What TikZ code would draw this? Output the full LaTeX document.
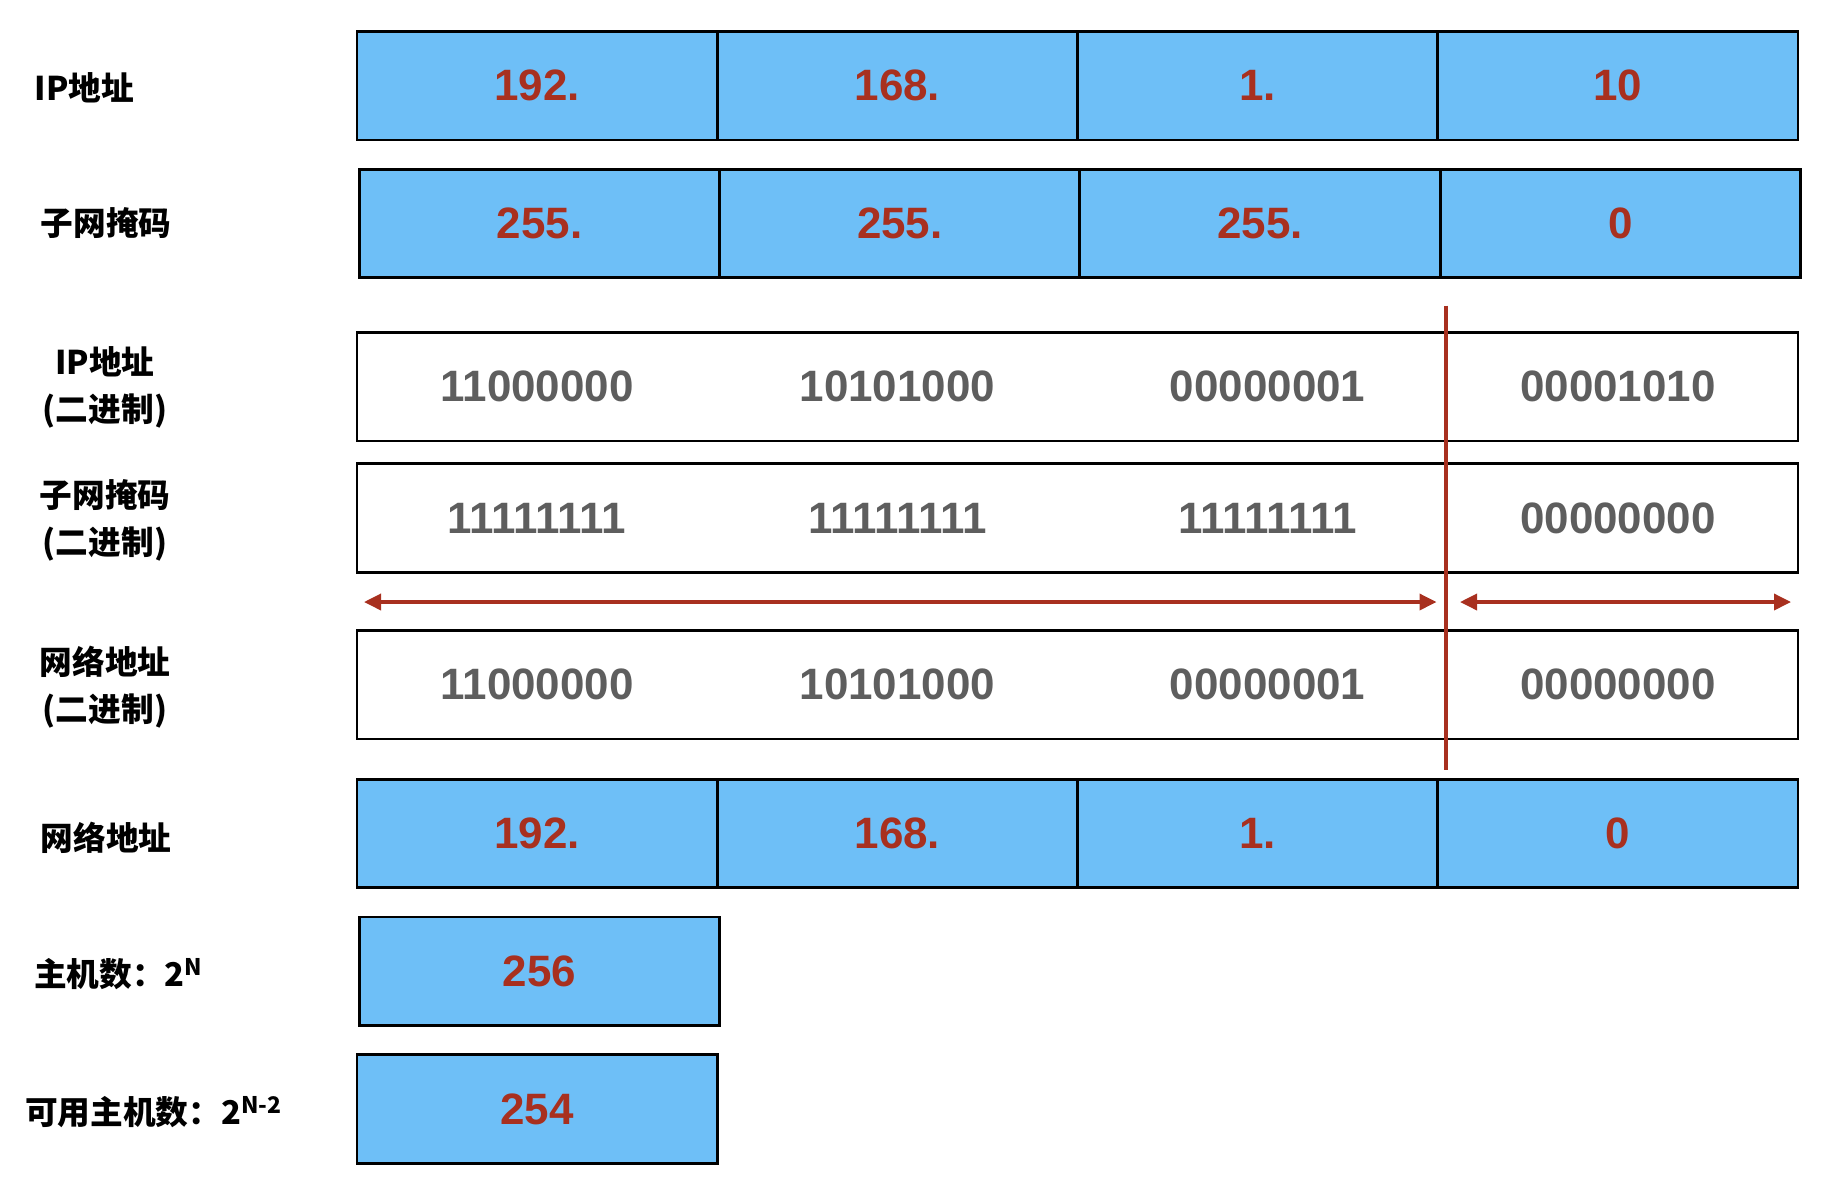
\documentclass[tikz,border=0pt]{standalone}
\usepackage{fontspec}
\setmainfont{Liberation Sans}
\newfontfamily\cjk{Noto Sans CJK SC}
\usepackage{xcolor}
\usepackage{tikz}
\usetikzlibrary{positioning,arrows.meta}

\definecolor{cellblue}{HTML}{6EBFF7}
\definecolor{numred}{HTML}{A8301F}
\definecolor{bitgray}{HTML}{5E5E5E}

\begin{document}
\begin{tikzpicture}[
						cell/.style={rectangle, draw=black, line width=1.6pt, fill=cellblue, outer sep=0pt, inner sep=0pt, minimum width=7.205cm, minimum height=2.17cm, text=numred, font=\fontsize{25}{30}\selectfont\bfseries},
						binrow/.style={rectangle, draw=black, line width=1.6pt, fill=white, outer sep=0pt, minimum width=28.82cm, minimum height=2.17cm},
						bit/.style={text=bitgray, font=\fontsize{25}{30}\selectfont\bfseries},
						lbl/.style={align=center, font=\cjk\bfseries\fontsize{18.6}{26.6}\selectfont},
						cutline/.style={draw=numred, line width=2pt},
						spanarrow/.style={cutline, {Triangle[length=0.34cm,width=0.32cm]}-{Triangle[length=0.34cm,width=0.32cm]}}
						]
						\useasboundingbox (0,0) rectangle (36.52,-23.8);
						
						% labels
						\node[lbl, anchor=west] (lip)  at (0.57,-1.75) {IP地址};
						\node[lbl, anchor=west] (lmk)  at (0.69,-4.47) {子网掩码};
						\node[lbl] (lipb) at (2.10,-7.74) {IP地址\\(二进制)};
						\node[lbl] (lmkb) at (2.10,-10.40) {子网掩码\\(二进制)};
						\node[lbl] (lnetb) at (2.10,-13.74) {网络地址\\(二进制)};
						\node[lbl, anchor=west] (lnet) at (0.69,-16.75) {网络地址};
						\node[lbl, anchor=west] (lhost) at (0.56,-19.49) {主机数：2\textsuperscript{N}};
						\node[lbl, anchor=west] (luse) at (0.38,-22.25) {可用主机数：2\textsuperscript{N-2}};
						
						% ip address
						\node[cell] (ip1) at (10.7425,-1.715) {192.};
						\node[cell, right=0pt of ip1] (ip2) {168.};
						\node[cell, right=0pt of ip2] (ip3) {1.};
						\node[cell, right=0pt of ip3] (ip4) {10};
						
						% subnet mask
						\node[cell] (mk1) at (10.79,-4.47) {255.};
						\node[cell, right=0pt of mk1] (mk2) {255.};
						\node[cell, right=0pt of mk2] (mk3) {255.};
						\node[cell, right=0pt of mk3] (mk4) {0};
						
						% binary rows
						\node[binrow] (ipb) at (21.55,-7.735) {};
						\node[bit] (ipb1) at (ip1 |- ipb) {11000000};
						\node[bit] (ipb2) at (ip2 |- ipb) {10101000};
						\node[bit] (ipb3) at ([xshift=0.2cm]ip3 |- ipb) {00000001};
						\node[bit] (ipb4) at (ip4 |- ipb) {00001010};
						
						\node[binrow] (mkb) at (21.55,-10.36) {};
						\node[bit] (mkb1) at (ip1 |- mkb) {11111111};
						\node[bit] (mkb2) at (ip2 |- mkb) {11111111};
						\node[bit] (mkb3) at ([xshift=0.2cm]ip3 |- mkb) {11111111};
						\node[bit] (mkb4) at (ip4 |- mkb) {00000000};
						
						\node[binrow] (netb) at (21.55,-13.695) {};
						\node[bit] (netb1) at (ip1 |- netb) {11000000};
						\node[bit] (netb2) at (ip2 |- netb) {10101000};
						\node[bit] (netb3) at ([xshift=0.2cm]ip3 |- netb) {00000001};
						\node[bit] (netb4) at (ip4 |- netb) {00000000};
						
						% network / host split
						\coordinate (cuttop) at (28.92,-6.11);
						\coordinate (cutbot) at (28.92,-15.40);
						\coordinate (netl) at (7.28,-12.04);
						\coordinate (netr) at (28.73,-12.04);
						\coordinate (hostl) at (29.20,-12.04);
						\coordinate (hostr) at (35.82,-12.04);
						\draw[spanarrow] (netl) -- (netr);
						\draw[spanarrow] (hostl) -- (hostr);
						
						% network address
						\node[cell] (net1) at (10.7425,-16.67) {192.};
						\node[cell, right=0pt of net1] (net2) {168.};
						\node[cell, right=0pt of net2] (net3) {1.};
						\node[cell, right=0pt of net3] (net4) {0};
						
						\draw[cutline] (cuttop) -- (cutbot);
						
						% host counts
						\node[cell] (hosts)  at (10.79,-19.425) {256};
						\node[cell] (usable) at (10.7425,-22.18) {254};
					\end{tikzpicture}
\end{document}
